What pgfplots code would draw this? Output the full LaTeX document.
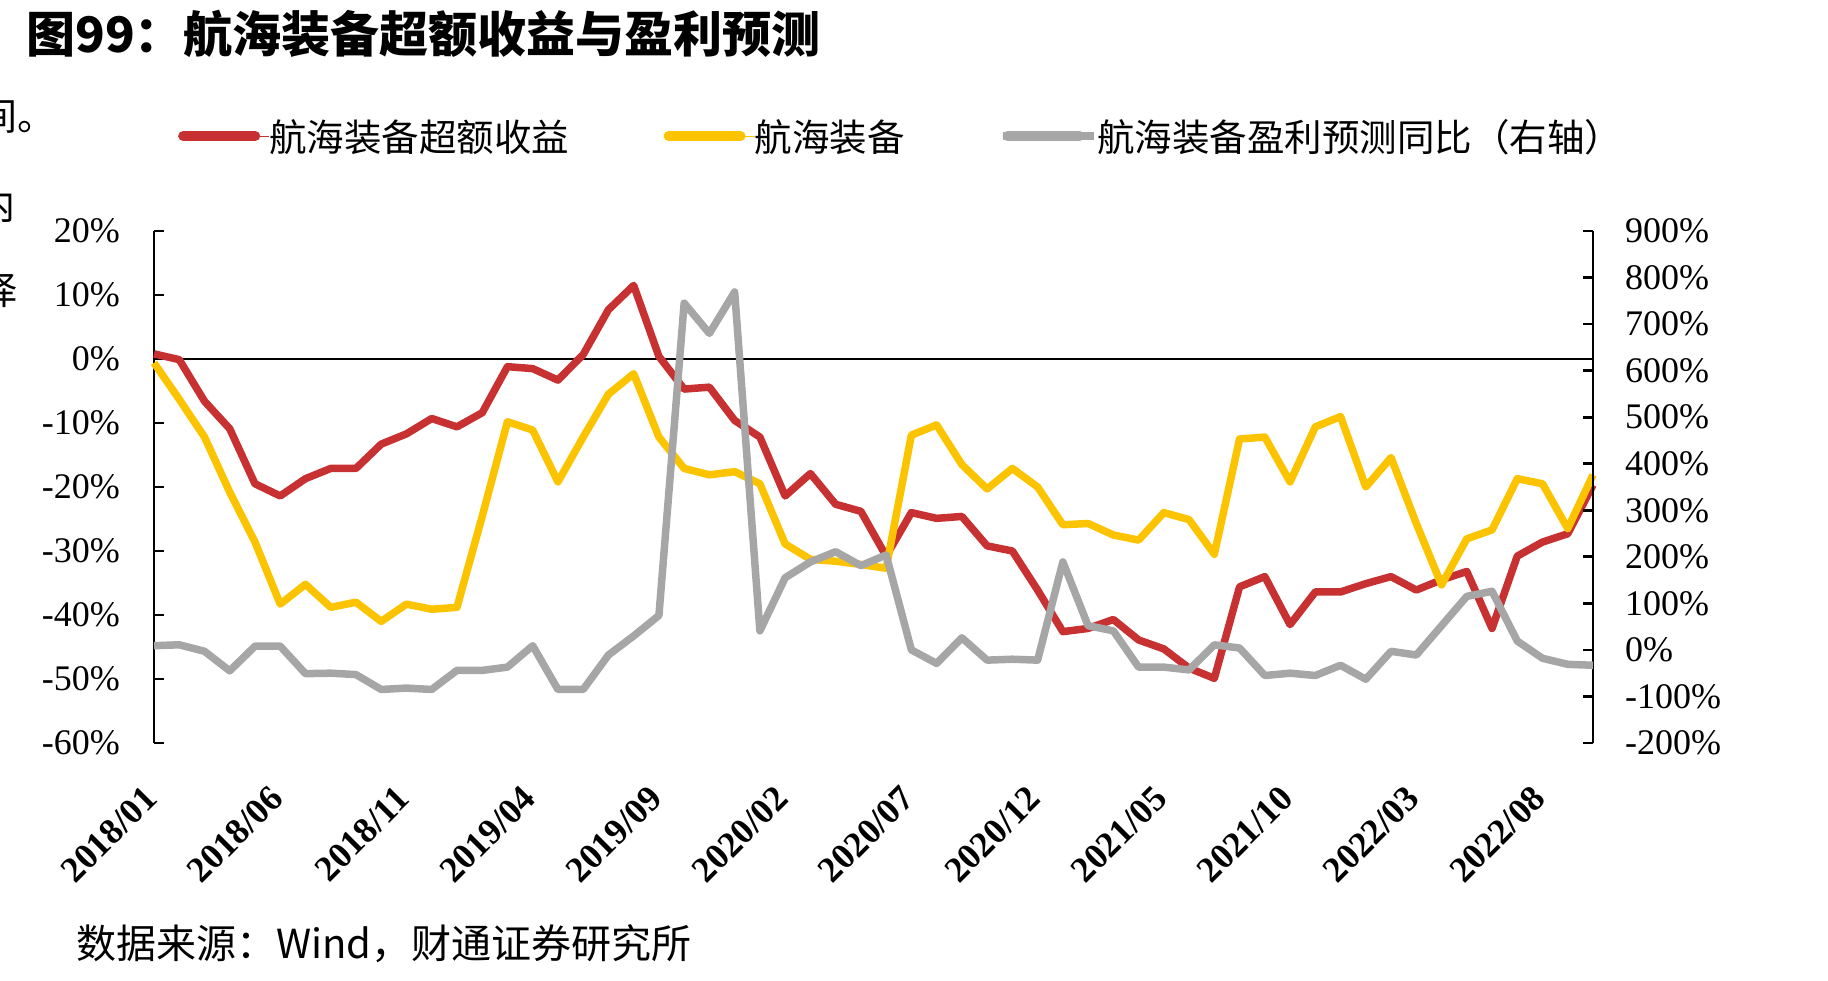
\documentclass[border=0pt]{standalone}
\usepackage{pgfplots}
\pgfplotsset{compat=1.18}
\usepackage{fontspec}
\setmainfont{Liberation Serif}
\newfontfamily\cjk{Noto Sans CJK SC}
\definecolor{cred}{RGB}{200,49,50}
\definecolor{cyel}{RGB}{252,196,0}
\definecolor{cgray}{RGB}{166,166,166}
\pgfplotstableread{
i red yel gray
0 0.8 -0.6 9
1 -0.1 -6.3 11
2 -6.6 -12.2 -3
3 -10.9 -20.8 -45
4 -19.5 -28.6 8
5 -21.4 -38.3 8
6 -18.7 -35.2 -51
7 -17.1 -38.8 -50
8 -17.1 -38.0 -53
9 -13.3 -41.0 -85
10 -11.7 -38.3 -82
11 -9.3 -39.1 -85
12 -10.6 -38.8 -44
13 -8.4 -24.6 -44
14 -1.2 -9.8 -37
15 -1.5 -11.1 9
16 -3.3 -19.2 -85
17 0.7 -12.2 -85
18 7.7 -5.5 -11
19 11.5 -2.3 30
20 0.4 -12.2 74
21 -4.7 -17.1 745
22 -4.4 -18.1 680
23 -9.6 -17.6 769
24 -12.2 -19.5 41
25 -21.4 -28.9 155
26 -17.9 -31.3 189
27 -22.7 -31.6 211
28 -23.8 -32.1 181
29 -30.8 -32.7 204
30 -24.0 -11.9 0
31 -24.9 -10.3 -29
32 -24.6 -16.5 26
33 -29.2 -20.3 -22
34 -30.0 -17.1 -20
35 -36.1 -20.0 -22
36 -42.6 -25.9 189
37 -42.1 -25.7 52
38 -40.7 -27.5 41
39 -43.9 -28.3 -37
40 -45.3 -24.0 -37
41 -48.3 -25.1 -43
42 -49.9 -30.5 11
43 -35.6 -12.5 4
44 -34.0 -12.2 -55
45 -41.5 -19.2 -50
46 -36.4 -10.6 -55
47 -36.4 -9.0 -33
48 -35.1 -20.0 -63
49 -34.0 -15.4 -3
50 -36.1 -25.7 -11
51 -34.5 -35.3 52
52 -33.2 -28.1 115
53 -42.1 -26.7 126
54 -30.8 -18.7 19
55 -28.6 -19.5 -18
56 -27.3 -26.5 -31
57 -19.7 -18.1 -33
}\datatable
\begin{document}
\begin{tikzpicture}
% page frame: axis box south-west corner is the origin; page is 1828 x 981 bp
\path (-154bp,743bp) rectangle (1674bp,-238bp);
% title
\node[anchor=west, inner sep=0pt] at (-128bp,709bp) {\cjk\bfseries\fontsize{49bp}{52bp}\selectfont 图99：航海装备超额收益与盈利预测};
% cropped fragments at the left edge (partly off the page)
\node[overlay, anchor=base east, inner sep=0pt] at (-98bp,612bp) {\cjk\fontsize{38bp}{40bp}\selectfont 间。};
\node[overlay, anchor=base east, inner sep=0pt] at (-138bp,523bp) {\cjk\fontsize{38bp}{40bp}\selectfont 内};
\node[overlay, anchor=base east, inner sep=0pt] at (-136bp,438bp) {\cjk\fontsize{38bp}{40bp}\selectfont 择};
% source
\node[anchor=west, inner sep=0pt] at (-78bp,-201bp) {\cjk\fontsize{40bp}{44bp}\selectfont 数据来源：Wind，财通证券研究所};
\begin{axis}[
  width=1439bp, height=512bp, scale only axis,
  xmin=0, xmax=57, ymin=-60, ymax=20,
  axis lines*=left,
  x axis line style={draw=none},
  xtick={0,5,...,55},
  xticklabels={2018/01,2018/06,2018/11,2019/04,2019/09,2020/02,2020/07,2020/12,2021/05,2021/10,2022/03,2022/08},
  xtick style={draw=none},
  xticklabel style={xshift=-12bp, yshift=-41bp, rotate=45, anchor=north east, inner sep=0pt,
     font=\bfseries\fontsize{36bp}{40bp}\selectfont},
  ytick={-60,-50,...,20},
  yticklabels={-60\%,-50\%,-40\%,-30\%,-20\%,-10\%,0\%,10\%,20\%},
  yticklabel style={anchor=east, inner sep=0pt, xshift=-34bp, font=\fontsize{36bp}{40bp}\selectfont},
  y axis line style={line width=2.7bp},
  ytick style={line width=2.7bp, black},
  tick align=inside, major tick length=10bp,
  clip=false,
]
\addplot[black, line width=2.8bp, forget plot] coordinates {(0,0) (57,0)};
\addplot[cred, line width=7.5bp, line join=round] table[x=i, y=red] {\datatable};
\addplot[cyel, line width=7.5bp, line join=round] table[x=i, y=yel] {\datatable};
\end{axis}
\begin{axis}[
  width=1439bp, height=512bp, scale only axis,
  xmin=0, xmax=57, ymin=-200, ymax=900,
  axis y line*=right, axis x line=none,
  ytick={-200,-100,...,900},
  yticklabels={-200\%,-100\%,0\%,100\%,200\%,300\%,400\%,500\%,600\%,700\%,800\%,900\%},
  yticklabel style={anchor=west, inner sep=0pt, xshift=32bp, font=\fontsize{36bp}{40bp}\selectfont},
  y axis line style={line width=2.7bp},
  ytick style={line width=2.7bp, black},
  tick align=inside, major tick length=10bp,
  clip=false,
  legend columns=3,
  legend style={at={(0.0167,1.1855)}, anchor=west, draw=none, fill=none,
    inner sep=0pt, outer sep=0pt,
    font=\cjk\fontsize{37.5bp}{40bp}\selectfont,
    nodes={inner sep=0pt},
    /tikz/every even column/.append style={column sep=94bp}},
  legend image code/.code={\draw[#1, line width=10bp, line cap=round] (5bp,0bp) -- (77bp,0bp); \path (0bp,0bp) -- (91bp,0bp);},
]
\addlegendimage{cred}
\addlegendentry{航海装备超额收益}
\addlegendimage{cyel}
\addlegendentry{航海装备}
\addplot[cgray, line width=7.5bp, line join=round] table[x=i, y=gray] {\datatable};
\addlegendentry{航海装备盈利预测同比（右轴）}
\end{axis}
\end{tikzpicture}
\end{document}
